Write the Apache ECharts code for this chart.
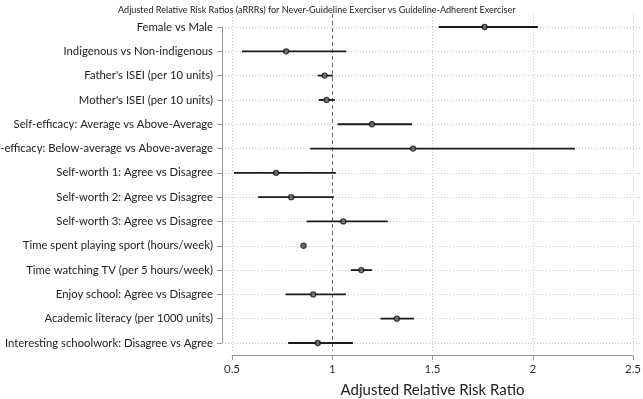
<!DOCTYPE html>
<html>
<head>
<meta charset="utf-8">
<script src="https://cdn.jsdelivr.net/npm/echarts@6/dist/echarts.min.js"></script>
<style>
  html, body { margin: 0; padding: 0; background: #fff; }
  #chart { width: 643px; height: 399px; }
</style>
</head>
<body>
<div id="chart"></div>
<script>
// 数据
var labels = [
  'Female vs Male',
  'Indigenous vs Non-indigenous',
  "Father's ISEI (per 10 units)",
  "Mother's ISEI (per 10 units)",
  'Self-efficacy: Average vs Above-Average',
  'Self-efficacy: Below-average vs Above-average',
  'Self-worth 1: Agree vs Disagree',
  'Self-worth 2: Agree vs Disagree',
  'Self-worth 3: Agree vs Disagree',
  'Time spent playing sport (hours/week)',
  'Time watching TV (per 5 hours/week)',
  'Enjoy school: Agree vs Disagree',
  'Academic literacy (per 1000 units)',
  'Interesting schoolwork: Disagree vs Agree'
];
var estimate = [1.76, 0.77, 0.962, 0.972, 1.198, 1.403, 0.72, 0.795, 1.055, 0.857, 1.145, 0.905, 1.322, 0.928];
var lower    = [1.532, 0.55, 0.927, 0.933, 1.027, 0.89, 0.51, 0.63, 0.872, 0.85, 1.093, 0.767, 1.24, 0.78];
var upper    = [2.025, 1.07, 1.003, 1.013, 1.398, 2.21, 1.018, 1.008, 1.277, 0.865, 1.198, 1.068, 1.408, 1.103];
var xTicks = [0.5, 1, 1.5, 2, 2.5];
var refValue = 1;

// 布局
var W = 643, H = 399;
var g0 = { left: 232, right: 10, top: 27, bottom: 56 };
var g1 = { left: 225, right: 3, top: 14, bottom: 48 };
var xMin = 0.5, xMax = 2.5;
var pxPerX = (W - g0.left - g0.right) / (xMax - xMin);
var rowPx = (H - g0.top - g0.bottom) / (labels.length - 1);
var bgXMin = xMin - (g0.left - g1.left) / pxPerX;
var bgXMax = xMax + (g0.right - g1.right) / pxPerX;
var bgYMin = -(g0.top - g1.top) / rowPx;
var bgYMax = (labels.length - 1) + (g0.bottom - g1.bottom) / rowPx;

var font = 'Lato, "Open Sans", sans-serif';

var barData = labels.map(function (l, i) { return [i, lower[i], upper[i]]; });
var pointData = labels.map(function (l, i) { return [estimate[i], i]; });

var gridMarks = [];
labels.forEach(function (l, i) {
  gridMarks.push({ yAxis: i, lineStyle: { color: '#c8c8c8', type: [1, 2], width: 1 } });
});
xTicks.forEach(function (v) {
  if (v !== refValue) gridMarks.push({ xAxis: v, lineStyle: { color: '#c8c8c8', type: [1, 2], width: 1 } });
});
gridMarks.push({ xAxis: refValue, lineStyle: { color: '#666', type: [4, 3], width: 1 } });

var myChart = echarts.init(document.getElementById('chart'), null, { renderer: 'canvas' });
myChart.setOption({
  animation: false,
  backgroundColor: '#fff',
  title: {
    text: 'Adjusted Relative Risk Ratios (aRRRs) for Never-Guideline Exerciser vs Guideline-Adherent Exerciser',
    left: 113,
    top: 1,
    textStyle: { fontFamily: font, fontSize: 9.1, fontWeight: 'normal', color: '#222' }
  },
  grid: [
    { left: g0.left, right: g0.right, top: g0.top, bottom: g0.bottom, outerBoundsMode: 'none', containLabel: false },
    { left: g1.left, right: g1.right, top: g1.top, bottom: g1.bottom, outerBoundsMode: 'none', containLabel: false }
  ],
  xAxis: [
    {
      type: 'value', gridIndex: 0, min: xMin, max: xMax, interval: 0.5,
      offset: 12,
      axisLine: { show: true, lineStyle: { color: '#999', width: 1 } },
      axisTick: { show: true, length: 5, lineStyle: { color: '#999' } },
      axisLabel: { fontFamily: font, fontSize: 11.5, color: '#333', margin: 8 },
      splitLine: { show: false },
      name: 'Adjusted Relative Risk Ratio',
      nameLocation: 'middle',
      nameGap: 28,
      nameTextStyle: { fontFamily: font, fontSize: 15, color: '#222' }
    },
    {
      type: 'value', gridIndex: 1, min: bgXMin, max: bgXMax, show: false,
      splitLine: { show: false }
    }
  ],
  yAxis: [
    {
      type: 'category', gridIndex: 0, data: labels, inverse: true, boundaryGap: false,
      offset: 10,
      axisLine: { show: true, lineStyle: { color: '#999', width: 1 } },
      axisTick: { show: true, length: 5, alignWithLabel: true, lineStyle: { color: '#999' } },
      axisLabel: { fontFamily: font, fontSize: 11.3, color: '#222', margin: 9 },
      splitLine: { show: false }
    },
    {
      type: 'value', gridIndex: 1, inverse: true, min: bgYMin, max: bgYMax, show: false,
      splitLine: { show: false }
    }
  ],
  series: [
    {
      type: 'line', xAxisIndex: 1, yAxisIndex: 1, data: [], silent: true, z: 1,
      markLine: { symbol: 'none', silent: true, label: { show: false }, data: gridMarks, z: 1 }
    },
    {
      type: 'custom', xAxisIndex: 0, yAxisIndex: 0,
      data: barData,
      encode: { y: 0, x: [1, 2] },
      renderItem: function (params, api) {
        var a = api.coord([api.value(1), api.value(0)]);
        var b = api.coord([api.value(2), api.value(0)]);
        return {
          type: 'line',
          shape: { x1: a[0], y1: a[1], x2: b[0], y2: b[1] },
          style: { stroke: '#1a1a1a', lineWidth: 1.8 }
        };
      },
      z: 5
    },
    {
      type: 'scatter', xAxisIndex: 0, yAxisIndex: 0,
      data: pointData,
      symbol: 'circle', symbolSize: 5,
      itemStyle: { color: '#777', borderColor: '#111', borderWidth: 1.3 },
      z: 6
    }
  ]
});
</script>
</body>
</html>
